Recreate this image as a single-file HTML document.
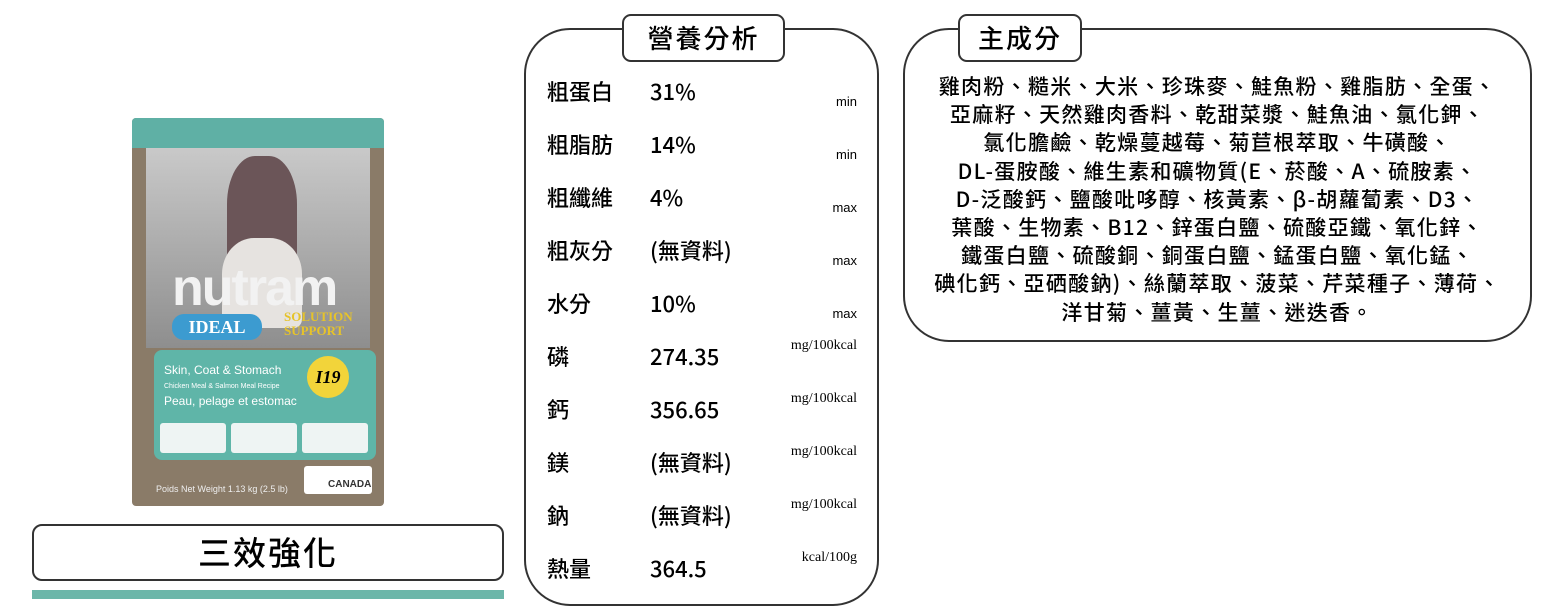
<!DOCTYPE html>
<html><head><meta charset="utf-8"><style>
*{margin:0;padding:0;box-sizing:border-box}
body{width:1559px;height:614px;background:#fff;position:relative;overflow:hidden;font-family:"Noto Sans CJK TC","Liberation Sans",sans-serif;color:#000}
.a{position:absolute}
.box{position:absolute;border:2.5px solid #333;background:#fff}
.t{font-size:22px;white-space:nowrap;line-height:28px;font-weight:500}
.u{font-size:13px;text-align:right;width:120px;left:737px;font-family:"Liberation Sans",sans-serif}
.s{font-family:"Liberation Serif",serif;font-size:14px}
</style></head><body>
<!-- product bag -->
<div class="a" style="left:132px;top:118px;width:252px;height:388px;background:#8a7b68;border-radius:4px;overflow:hidden">
 <div class="a" style="left:0;top:0;width:252px;height:30px;background:#5fb0a5"></div>
 <div class="a" style="left:14px;top:30px;width:224px;height:200px;background:linear-gradient(#c9c9c9,#8e8e8e)"></div>
 <div class="a" style="left:95px;top:38px;width:70px;height:120px;background:#6b5558;border-radius:40% 40% 20% 20%"></div>
 <div class="a" style="left:90px;top:120px;width:80px;height:90px;background:#e6e3e0;border-radius:40% 40% 10% 10%"></div>
 <div class="a" style="left:40px;top:140px;font:bold 52px 'Liberation Sans',sans-serif;color:#f2f2f2;letter-spacing:-2px">nutram</div>
 <div class="a" style="left:40px;top:196px;width:90px;height:26px;background:#3c9bd0;border-radius:12px;color:#fff;font:bold 18px 'Liberation Serif',serif;text-align:center;line-height:26px">IDEAL</div>
 <div class="a" style="left:152px;top:192px;color:#e6c32a;font:bold 13px 'Liberation Serif',serif;line-height:14px">SOLUTION<br>SUPPORT</div>
 <div class="a" style="left:22px;top:232px;width:222px;height:110px;background:#5fb5a8;border-radius:8px"></div>
 <div class="a" style="left:175px;top:238px;width:42px;height:42px;background:#f2d43a;border-radius:50%;font:bold italic 18px serif;text-align:center;line-height:42px">I19</div>
 <div class="a" style="left:32px;top:245px;color:#fff;font:12px 'Liberation Sans',sans-serif;line-height:14px">Skin, Coat &amp; Stomach<br><span style="font-size:7px">Chicken Meal &amp; Salmon Meal Recipe</span><br>Peau, pelage et estomac</div>
 <div class="a" style="left:28px;top:305px;width:66px;height:30px;background:#eef4f3;border-radius:3px"></div>
 <div class="a" style="left:99px;top:305px;width:66px;height:30px;background:#eef4f3;border-radius:3px"></div>
 <div class="a" style="left:170px;top:305px;width:66px;height:30px;background:#eef4f3;border-radius:3px"></div>
 <div class="a" style="left:172px;top:348px;width:68px;height:28px;background:#fff;border-radius:3px;font:bold 10px sans-serif;color:#333;padding:13px 0 0 24px">CANADA</div>
 <div class="a" style="left:24px;top:366px;color:#eee;font:9px sans-serif">Poids Net Weight 1.13 kg (2.5 lb)</div>
</div>
<!-- label -->
<div class="box" style="left:32px;top:524px;width:472px;height:57px;border-radius:10px"></div>
<div class="a" style="left:32px;top:524px;width:472px;height:57px;text-align:center;line-height:55px;font-size:33px;font-weight:500;letter-spacing:2px">三效強化</div>
<div class="a" style="left:32px;top:590px;width:472px;height:9px;background:#6cb6a9"></div>

<!-- nutrition -->
<div class="box" style="left:524px;top:28px;width:355px;height:578px;border-radius:46px"></div>
<div class="box" style="left:622px;top:14px;width:163px;height:48px;border-radius:9px;font-size:26px;font-weight:500;text-align:center;line-height:43px;letter-spacing:2px">營養分析</div>
<div class="a t" style="left:547px;top:77px">粗蛋白</div><div class="a t" style="left:650px;top:77px">31%</div><div class="a u" style="top:94px">min</div>
<div class="a t" style="left:547px;top:130px">粗脂肪</div><div class="a t" style="left:650px;top:130px">14%</div><div class="a u" style="top:147px">min</div>
<div class="a t" style="left:547px;top:183px">粗纖維</div><div class="a t" style="left:650px;top:183px">4%</div><div class="a u" style="top:200px">max</div>
<div class="a t" style="left:547px;top:236px">粗灰分</div><div class="a t" style="left:650px;top:236px">(無資料)</div><div class="a u" style="top:253px">max</div>
<div class="a t" style="left:547px;top:289px">水分</div><div class="a t" style="left:650px;top:289px">10%</div><div class="a u" style="top:306px">max</div>
<div class="a t" style="left:547px;top:342px">磷</div><div class="a t" style="left:650px;top:342px">274.35</div><div class="a u s" style="top:338px">mg/100kcal</div>
<div class="a t" style="left:547px;top:395px">鈣</div><div class="a t" style="left:650px;top:395px">356.65</div><div class="a u s" style="top:391px">mg/100kcal</div>
<div class="a t" style="left:547px;top:448px">鎂</div><div class="a t" style="left:650px;top:448px">(無資料)</div><div class="a u s" style="top:444px">mg/100kcal</div>
<div class="a t" style="left:547px;top:501px">鈉</div><div class="a t" style="left:650px;top:501px">(無資料)</div><div class="a u s" style="top:497px">mg/100kcal</div>
<div class="a t" style="left:547px;top:554px">熱量</div><div class="a t" style="left:650px;top:554px">364.5</div><div class="a u s" style="top:550px">kcal/100g</div>

<!-- ingredients -->
<div class="box" style="left:903px;top:28px;width:629px;height:314px;border-radius:46px"></div>
<div class="box" style="left:958px;top:14px;width:124px;height:48px;border-radius:9px;font-size:26px;font-weight:500;text-align:center;line-height:43px;letter-spacing:2px">主成分</div>
<div class="a" style="left:905px;top:72px;width:625px;text-align:center;font-size:21px;font-weight:500;letter-spacing:1.3px;line-height:28.2px;white-space:nowrap">
雞肉粉、糙米、大米、珍珠麥、鮭魚粉、雞脂肪、全蛋、<br>亞麻籽、天然雞肉香料、乾甜菜漿、鮭魚油、氯化鉀、<br>氯化膽鹼、乾燥蔓越莓、菊苣根萃取、牛磺酸、<br>DL-蛋胺酸、維生素和礦物質(E、菸酸、A、硫胺素、<br>D-泛酸鈣、鹽酸吡哆醇、核黃素、β-胡蘿蔔素、D3、<br>葉酸、生物素、B12、鋅蛋白鹽、硫酸亞鐵、氧化鋅、<br>鐵蛋白鹽、硫酸銅、銅蛋白鹽、錳蛋白鹽、氧化錳、<br>碘化鈣、亞硒酸鈉)、絲蘭萃取、菠菜、芹菜種子、薄荷、<br>洋甘菊、薑黃、生薑、迷迭香。</div>
</body></html>
